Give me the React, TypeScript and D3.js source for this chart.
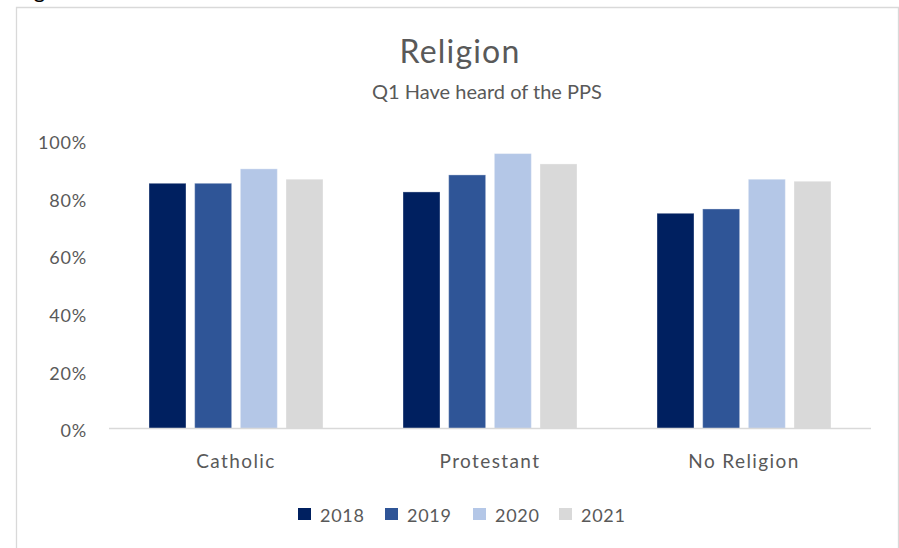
import React from "react";
import * as d3 from "d3";

const categories = ["Catholic", "Protestant", "No Religion"];
const years = ["2018", "2019", "2020", "2021"];
const values2018 = [0.85, 0.82, 0.746];
const values2019 = [0.85, 0.879, 0.761];
const values2020 = [0.9, 0.953, 0.864];
const values2021 = [0.864, 0.917, 0.857];
const seriesValues = [values2018, values2019, values2020, values2021];
const colors = ["#002060", "#2F5597", "#B4C7E7", "#D9D9D9"];
const yTicks = [0, 0.2, 0.4, 0.6, 0.8, 1.0];

const W = 899;
const H = 548;
const FONT = "Lato, 'Open Sans', sans-serif";
const TEXT = "#595959";

export default function App() {
  const x0 = d3.scaleBand<string>().domain(categories).range([109, 871]).paddingInner(0).paddingOuter(0);
  const groupW = 174;
  const x1 = d3.scaleBand<string>().domain(years).range([0, groupW]).paddingInner(0.19).paddingOuter(0);
  const y = d3.scaleLinear().domain([0, 1]).range([428.5, 140]);
  const fmt = d3.format(".0%");

  const legendX = [298, 385, 473, 559];

  return (
    <svg width={W} height={H} style={{ position: "absolute", left: 0, top: 0, background: "#fff" }}>
      <text x={16} y={-2} fontFamily={FONT} fontSize={22} fill="#000">Figure</text>
      <path d={`M16.5,${H} V7.5 H898.5 V${H}`} fill="none" stroke="#D9D9D9" strokeWidth={1.3} />
      <text x={460} y={63} textAnchor="middle" fontFamily={FONT} fontSize={32} letterSpacing={1.2} fill={TEXT}>Religion</text>
      <text x={487} y={99} textAnchor="middle" fontFamily={FONT} fontSize={20} fill={TEXT}>Q1 Have heard of the PPS</text>

      {yTicks.map((t) => (
        <text key={t} x={87} y={y(t) + 2.5} dy="0.35em" textAnchor="end" fontFamily={FONT} fontSize={18} letterSpacing={0.8} fill={TEXT}>
          {fmt(t)}
        </text>
      ))}

      {categories.map((c, ci) => {
        const gx = (x0(c) as number) + (x0.bandwidth() - groupW) / 2;
        return (
          <g key={c}>
            {years.map((yr, si) => {
              const v = seriesValues[si][ci];
              return (
                <rect
                  key={yr}
                  x={gx + (x1(yr) as number)}
                  y={y(v)}
                  width={x1.bandwidth()}
                  height={y(0) - y(v)}
                  fill={colors[si]}
                  stroke="#ffffff"
                  strokeOpacity={0.35}
                  strokeWidth={1}
                />
              );
            })}
            <text x={(x0(c) as number) + x0.bandwidth() / 2} y={468} textAnchor="middle" fontFamily={FONT} fontSize={19} letterSpacing={1.4} fill={TEXT}>
              {c}
            </text>
          </g>
        );
      })}

      <line x1={109} x2={871} y1={428.5} y2={428.5} stroke="#D9D9D9" strokeWidth={1.3} />

      {years.map((yr, si) => (
        <g key={yr}>
          <rect x={legendX[si]} y={508} width={13} height={12} fill={colors[si]} />
          <text x={legendX[si] + 22} y={521.5} fontFamily={FONT} fontSize={18} letterSpacing={0.7} fill={TEXT}>
            {yr}
          </text>
        </g>
      ))}
    </svg>
  );
}
